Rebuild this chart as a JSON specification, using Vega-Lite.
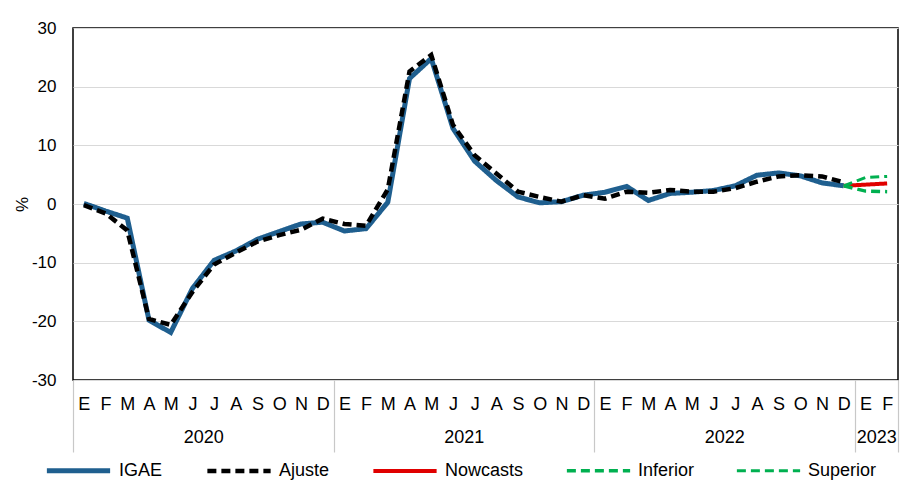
{
  "$schema": "https://vega.github.io/schema/vega-lite/v6.json",
  "width": 825,
  "height": 352,
  "autosize": {"type": "none"},
  "padding": {"left": 73, "top": 28, "right": 26, "bottom": 118},
  "config": {
    "font": "Liberation Sans",
    "view": {"stroke": "#000000", "strokeWidth": 1.5},
    "axis": {"labelColor": "#000000", "titleColor": "#000000", "labelFont": "Liberation Sans", "titleFont": "Liberation Sans"},
    "legend": {
      "orient": "none",
      "legendX": -29,
      "legendY": 408,
      "direction": "horizontal",
      "symbolType": "stroke",
      "symbolSize": 4000,
      "labelFontSize": 18,
      "labelColor": "#000000",
      "labelFont": "Liberation Sans",
      "labelOffset": 6,
      "columnPadding": 35,
      "labelLimit": 300
    }
  },
  "data": {
    "values": [
      {"i": 0, "serie": "IGAE", "valor": 0.1},
      {"i": 1, "serie": "IGAE", "valor": -1.2},
      {"i": 2, "serie": "IGAE", "valor": -2.4},
      {"i": 3, "serie": "IGAE", "valor": -19.8},
      {"i": 4, "serie": "IGAE", "valor": -21.9},
      {"i": 5, "serie": "IGAE", "valor": -14.4},
      {"i": 6, "serie": "IGAE", "valor": -9.6},
      {"i": 7, "serie": "IGAE", "valor": -8.0},
      {"i": 8, "serie": "IGAE", "valor": -6.0},
      {"i": 9, "serie": "IGAE", "valor": -4.7},
      {"i": 10, "serie": "IGAE", "valor": -3.4},
      {"i": 11, "serie": "IGAE", "valor": -3.1},
      {"i": 12, "serie": "IGAE", "valor": -4.6},
      {"i": 13, "serie": "IGAE", "valor": -4.2},
      {"i": 14, "serie": "IGAE", "valor": 0.3},
      {"i": 15, "serie": "IGAE", "valor": 21.4},
      {"i": 16, "serie": "IGAE", "valor": 24.8},
      {"i": 17, "serie": "IGAE", "valor": 12.9},
      {"i": 18, "serie": "IGAE", "valor": 7.3},
      {"i": 19, "serie": "IGAE", "valor": 4.0},
      {"i": 20, "serie": "IGAE", "valor": 1.2},
      {"i": 21, "serie": "IGAE", "valor": 0.2},
      {"i": 22, "serie": "IGAE", "valor": 0.4},
      {"i": 23, "serie": "IGAE", "valor": 1.5},
      {"i": 24, "serie": "IGAE", "valor": 2.0},
      {"i": 25, "serie": "IGAE", "valor": 3.0},
      {"i": 26, "serie": "IGAE", "valor": 0.6},
      {"i": 27, "serie": "IGAE", "valor": 1.8},
      {"i": 28, "serie": "IGAE", "valor": 2.0},
      {"i": 29, "serie": "IGAE", "valor": 2.3},
      {"i": 30, "serie": "IGAE", "valor": 3.1},
      {"i": 31, "serie": "IGAE", "valor": 4.9},
      {"i": 32, "serie": "IGAE", "valor": 5.3},
      {"i": 33, "serie": "IGAE", "valor": 4.8},
      {"i": 34, "serie": "IGAE", "valor": 3.6},
      {"i": 35, "serie": "IGAE", "valor": 3.1},
      {"i": 0, "serie": "Ajuste", "valor": -0.2},
      {"i": 1, "serie": "Ajuste", "valor": -1.6},
      {"i": 2, "serie": "Ajuste", "valor": -4.5},
      {"i": 3, "serie": "Ajuste", "valor": -19.6},
      {"i": 4, "serie": "Ajuste", "valor": -20.6},
      {"i": 5, "serie": "Ajuste", "valor": -15.0},
      {"i": 6, "serie": "Ajuste", "valor": -10.3},
      {"i": 7, "serie": "Ajuste", "valor": -8.3},
      {"i": 8, "serie": "Ajuste", "valor": -6.4},
      {"i": 9, "serie": "Ajuste", "valor": -5.3},
      {"i": 10, "serie": "Ajuste", "valor": -4.4},
      {"i": 11, "serie": "Ajuste", "valor": -2.5},
      {"i": 12, "serie": "Ajuste", "valor": -3.4},
      {"i": 13, "serie": "Ajuste", "valor": -3.7},
      {"i": 14, "serie": "Ajuste", "valor": 2.5},
      {"i": 15, "serie": "Ajuste", "valor": 22.6},
      {"i": 16, "serie": "Ajuste", "valor": 25.4},
      {"i": 17, "serie": "Ajuste", "valor": 13.5},
      {"i": 18, "serie": "Ajuste", "valor": 8.3},
      {"i": 19, "serie": "Ajuste", "valor": 5.2},
      {"i": 20, "serie": "Ajuste", "valor": 2.1},
      {"i": 21, "serie": "Ajuste", "valor": 1.2},
      {"i": 22, "serie": "Ajuste", "valor": 0.4},
      {"i": 23, "serie": "Ajuste", "valor": 1.5},
      {"i": 24, "serie": "Ajuste", "valor": 0.9},
      {"i": 25, "serie": "Ajuste", "valor": 2.1},
      {"i": 26, "serie": "Ajuste", "valor": 1.9},
      {"i": 27, "serie": "Ajuste", "valor": 2.4},
      {"i": 28, "serie": "Ajuste", "valor": 2.1},
      {"i": 29, "serie": "Ajuste", "valor": 2.1},
      {"i": 30, "serie": "Ajuste", "valor": 2.7},
      {"i": 31, "serie": "Ajuste", "valor": 3.8},
      {"i": 32, "serie": "Ajuste", "valor": 4.7},
      {"i": 33, "serie": "Ajuste", "valor": 4.9},
      {"i": 34, "serie": "Ajuste", "valor": 4.7},
      {"i": 35, "serie": "Ajuste", "valor": 3.7},
      {"i": 35, "serie": "Nowcasts", "valor": 3.1},
      {"i": 36, "serie": "Nowcasts", "valor": 3.3},
      {"i": 37, "serie": "Nowcasts", "valor": 3.5},
      {"i": 35, "serie": "Inferior", "valor": 3.1},
      {"i": 36, "serie": "Inferior", "valor": 2.2},
      {"i": 37, "serie": "Inferior", "valor": 2.1},
      {"i": 35, "serie": "Superior", "valor": 3.1},
      {"i": 36, "serie": "Superior", "valor": 4.5},
      {"i": 37, "serie": "Superior", "valor": 4.7}
    ]
  },
  "encoding": {
    "y": {
      "field": "valor",
      "type": "quantitative",
      "scale": {"domain": [-30, 30], "nice": false},
      "axis": {
        "values": [-30, -20, -10, 0, 10, 20, 30],
        "labelExpr": "'' + datum.value",
        "grid": true,
        "gridColor": "#d9d9d9",
        "gridWidth": 1.2,
        "ticks": false,
        "domain": false,
        "labelFontSize": 17,
        "labelPadding": 17,
        "title": "%",
        "titleFontSize": 17,
        "titleFontWeight": "normal",
        "titlePadding": 0
      }
    },
    "color": {
      "field": "serie",
      "type": "nominal",
      "title": null,
      "scale": {
        "domain": ["IGAE", "Ajuste", "Nowcasts", "Inferior", "Superior"],
        "range": ["#1f5f8f", "#000000", "#e00000", "#00b050", "#00b050"]
      }
    },
    "strokeDash": {
      "field": "serie",
      "type": "nominal",
      "title": null,
      "scale": {
        "domain": ["IGAE", "Ajuste", "Nowcasts", "Inferior", "Superior"],
        "range": [[1, 0], [9, 5], [1, 0], [9, 5], [9, 5]]
      }
    },
    "strokeWidth": {
      "field": "serie",
      "type": "nominal",
      "title": null,
      "scale": {
        "domain": ["IGAE", "Ajuste", "Nowcasts", "Inferior", "Superior"],
        "range": [5, 3, 5, 3, 3]
      }
    }
  },
  "layer": [
    {
      "transform": [{"filter": {"field": "serie", "equal": "IGAE"}}],
      "mark": {"type": "line"},
      "encoding": {
        "x": {
          "field": "i",
          "type": "quantitative",
          "scale": {"domain": [-0.5, 37.5], "nice": false, "zero": false},
          "axis": {
            "orient": "bottom",
            "values": [0,1,2,3,4,5,6,7,8,9,10,11,12,13,14,15,16,17,18,19,20,21,22,23,24,25,26,27,28,29,30,31,32,33,34,35,36,37],
            "labelExpr": "['E','F','M','A','M','J','J','A','S','O','N','D'][datum.value % 12]",
            "ticks": false,
            "domain": false,
            "grid": false,
            "labelFontSize": 18,
            "labelPadding": 15,
            "labelOverlap": false,
            "labelFlush": false,
            "title": null
          }
        }
      }
    },
    {
      "transform": [{"filter": {"field": "serie", "equal": "Ajuste"}}],
      "mark": {"type": "line"},
      "encoding": {
        "x": {
          "field": "i",
          "type": "quantitative",
          "axis": {
            "orient": "bottom",
            "values": [5.5, 17.5, 29.5, 36.5],
            "labelExpr": "datum.value < 12 ? '2020' : datum.value < 24 ? '2021' : datum.value < 36 ? '2022' : '2023'",
            "ticks": false,
            "domain": false,
            "grid": false,
            "labelFontSize": 18,
            "labelPadding": 48,
            "labelOverlap": false,
            "labelFlush": false,
            "title": null
          }
        }
      }
    },
    {
      "transform": [{"filter": {"field": "serie", "equal": "Nowcasts"}}],
      "mark": {"type": "line"},
      "encoding": {
        "x": {
          "field": "i",
          "type": "quantitative",
          "axis": {
            "orient": "bottom",
            "values": [-0.5, 11.5, 23.5, 35.5, 37.5],
            "labels": false,
            "ticks": true,
            "tickSize": 72,
            "tickColor": "#c8c8c8",
            "tickWidth": 1.2,
            "domain": false,
            "grid": false,
            "title": null
          }
        }
      }
    },
    {
      "transform": [{"filter": {"field": "serie", "equal": "Inferior"}}],
      "mark": {"type": "line"},
      "encoding": {"x": {"field": "i", "type": "quantitative", "axis": null}}
    },
    {
      "transform": [{"filter": {"field": "serie", "equal": "Superior"}}],
      "mark": {"type": "line"},
      "encoding": {"x": {"field": "i", "type": "quantitative", "axis": null}}
    }
  ],
  "resolve": {"axis": {"x": "independent"}}
}
